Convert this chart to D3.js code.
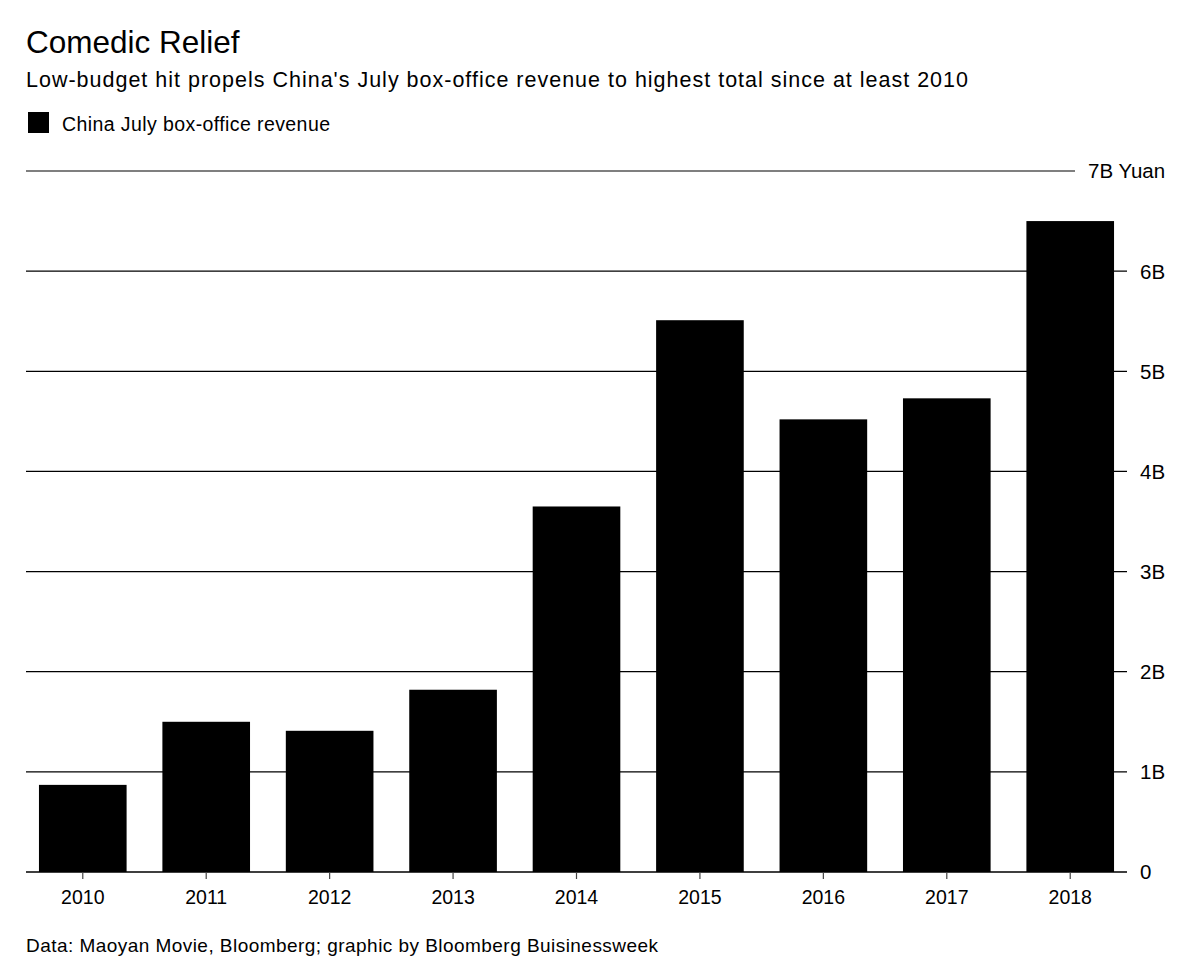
<!DOCTYPE html>
<html>
<head>
<meta charset="utf-8">
<script src="https://cdn.jsdelivr.net/npm/d3@7"></script>
<style>
  html, body { margin: 0; padding: 0; background: #fff; }
  svg { display: block; }
  text { font-family: "Liberation Sans", Arial, Helvetica, sans-serif; fill: #000; }
</style>
</head>
<body>
<svg id="chart" width="1200" height="969"></svg>
<script>
const years = ["2010","2011","2012","2013","2014","2015","2016","2017","2018"];
const revenue = [0.87, 1.50, 1.41, 1.82, 3.65, 5.51, 4.52, 4.73, 6.50]; // billions of yuan
const yTicks = [0, 1, 2, 3, 4, 5, 6, 7];
const yTickLabels = ["0", "1B", "2B", "3B", "4B", "5B", "6B", "7B Yuan"];
const titleText = "Comedic Relief";
const subtitleText = "Low-budget hit propels China's July box-office revenue to highest total since at least 2010";
const legendLabel = "China July box-office revenue";
const sourceText = "Data: Maoyan Movie, Bloomberg; graphic by Bloomberg Buisinessweek";

(function () {
const svg = d3.select("#chart");
const plotLeft = 26, plotRight = 1127, plotTop = 171, plotBottom = 872;

const x = d3.scaleBand().domain(years).range([plotLeft, plotRight]).paddingInner(0.29).paddingOuter(0.105);
const y = d3.scaleLinear().domain([0, 7]).range([plotBottom, plotTop]);

// Title & subtitle
svg.append("text").attr("x", 26).attr("y", 53).attr("font-size", 31.5).text(titleText);
svg.append("text").attr("x", 26).attr("y", 87).attr("font-size", 21.5)
  .attr("textLength", 942).attr("lengthAdjust", "spacing").text(subtitleText);

// Legend
svg.append("rect").attr("x", 28).attr("y", 112).attr("width", 21).attr("height", 21).attr("fill", "#000");
svg.append("text").attr("x", 62).attr("y", 131).attr("font-size", 19.5)
  .attr("textLength", 268).attr("lengthAdjust", "spacing").text(legendLabel);

// Gridlines
const grid = svg.append("g");
yTicks.forEach((t, i) => {
  grid.append("line")
    .attr("x1", plotLeft).attr("x2", t === 7 ? 1075 : plotRight)
    .attr("y1", y(t)).attr("y2", y(t))
    .attr("stroke", "#000").attr("stroke-width", 1.2);
  grid.append("text")
    .attr("x", t === 7 ? 1088 : 1140)
    .attr("y", y(t)).attr("dy", "0.36em")
    .attr("font-size", 20.5)
    .text(yTickLabels[i]);
});

// Bars
svg.append("g").selectAll("rect").data(years).join("rect")
  .attr("x", d => x(d))
  .attr("width", x.bandwidth())
  .attr("y", (d, i) => y(revenue[i]))
  .attr("height", (d, i) => y(0) - y(revenue[i]))
  .attr("fill", "#000");

// Zero line on top
svg.append("line").attr("x1", plotLeft).attr("x2", plotRight).attr("y1", y(0)).attr("y2", y(0))
  .attr("stroke", "#000").attr("stroke-width", 1.2);

// X axis
const xAxis = svg.append("g").attr("transform", `translate(0,${plotBottom})`)
  .call(d3.axisBottom(x).tickSize(7).tickPadding(11));
xAxis.select(".domain").remove();
xAxis.selectAll(".tick line").attr("stroke", "#444").attr("stroke-width", 1.2);
xAxis.selectAll(".tick text").attr("font-size", 19.5).attr("fill", "#000")
  .attr("font-family", "'Liberation Sans', Arial, Helvetica, sans-serif");

// Source
svg.append("text").attr("x", 26).attr("y", 952).attr("font-size", 19)
  .attr("textLength", 632).attr("lengthAdjust", "spacing").text(sourceText);
})();
</script>
</body>
</html>
